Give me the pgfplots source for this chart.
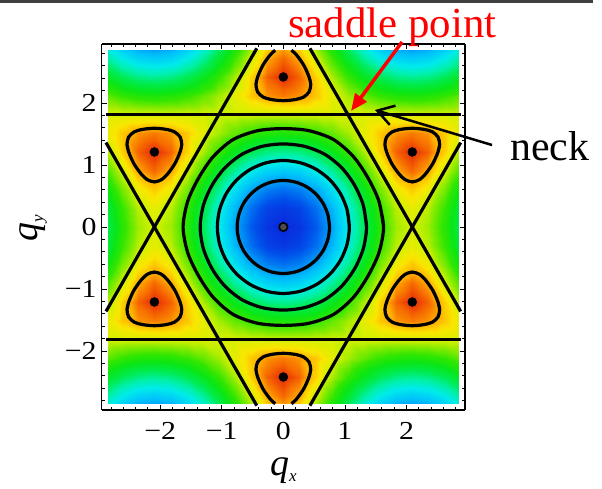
\documentclass[border=0pt]{standalone}
\usepackage{fontspec}
\setmainfont{Liberation Serif}
\usepackage{graphicx}
\usepackage{pgfplots}
\pgfplotsset{compat=1.18}
\usetikzlibrary{arrows.meta}
\pgfplotsset{colormap={bandmap}{rgb255(0pt)=(230,40,10); rgb255(8pt)=(245,100,0); rgb255(19pt)=(255,170,0); rgb255(35pt)=(250,230,0); rgb255(50pt)=(215,240,0); rgb255(70pt)=(140,235,0); rgb255(100pt)=(50,230,0); rgb255(130pt)=(10,230,20); rgb255(170pt)=(0,235,80); rgb255(210pt)=(0,240,170); rgb255(250pt)=(0,235,235); rgb255(300pt)=(0,195,250); rgb255(350pt)=(0,140,245); rgb255(400pt)=(0,80,235); rgb255(450pt)=(10,40,220)}}
\newcommand{\tl}[1]{\textrm{\scalebox{1.15}[1]{#1}}}
\begin{document}
\begin{tikzpicture}
\useasboundingbox (0,0) rectangle (602bp,-489bp);
\draw[line width=2.5bp, black!75] (0,-1.5bp) -- (593bp,-1.5bp);
\begin{axis}[
  at={(101.7bp,-44bp)}, anchor=north west,
  scale only axis, width=363.3bp, height=366bp,
  view={0}{90},
  xmin=-2.95, xmax=2.95, ymin=-2.95, ymax=2.95, zmin=-2, zmax=4,
  colormap name=bandmap, point meta min=-1.5, point meta max=3,
  xtick={-2,-1,0,1,2}, xticklabels={\tl{−2},\tl{−1},\tl{0},\tl{1},\tl{2}},
  ytick={-2,-1,0,1,2}, yticklabels={\tl{−2},\tl{−1},\tl{0},\tl{1},\tl{2}},
  ztick=\empty,
  minor xtick={-2.8,-2.6,...,2.81}, minor ytick={-2.8,-2.6,...,2.81},
  tick align=inside, major tick length=5bp, minor tick length=3bp,
  tick style={black, line width=0.8bp},
  axis line style={black, line width=1.4bp},
  ticklabel style={font=\fontsize{26}{26}\selectfont\rmfamily, inner sep=0pt},
  xticklabel shift=12bp, yticklabel shift=5bp,
  axis on top,
  cl/.style={black, line width=3.2bp},
]
\addplot3[surf, shader=interp, mesh/rows=21, mesh/cols=23] table[row sep=\\] {
x y z \\
-2.85 -2.85 0.885 \\ -2.618 -2.85 1.328 \\ -2.3562 -2.85 1.667 \\ -2.0944 -2.85 1.786 \\ -1.8326 -2.85 1.667 \\ -1.5708 -2.85 1.328 \\ -1.309 -2.85 0.82 \\ -1.0472 -2.85 0.222 \\ -0.7854 -2.85 -0.376 \\ -0.5236 -2.85 -0.883 \\ -0.2618 -2.85 -1.222 \\ 0 -2.85 -1.341 \\ 0.2618 -2.85 -1.222 \\ 0.5236 -2.85 -0.883 \\ 0.7854 -2.85 -0.376 \\ 1.0472 -2.85 0.222 \\ 1.309 -2.85 0.82 \\ 1.5708 -2.85 1.328 \\ 1.8326 -2.85 1.667 \\ 2.0944 -2.85 1.786 \\ 2.3562 -2.85 1.667 \\ 2.618 -2.85 1.328 \\ 2.85 -2.85 0.885 \\
-2.85 -2.7207 0.599 \\ -2.618 -2.7207 1 \\ -2.3562 -2.7207 1.307 \\ -2.0944 -2.7207 1.414 \\ -1.8326 -2.7207 1.307 \\ -1.5708 -2.7207 1 \\ -1.309 -2.7207 0.541 \\ -1.0472 -2.7207 0 \\ -0.7854 -2.7207 -0.541 \\ -0.5236 -2.7207 -1 \\ -0.2618 -2.7207 -1.307 \\ 0 -2.7207 -1.414 \\ 0.2618 -2.7207 -1.307 \\ 0.5236 -2.7207 -1 \\ 0.7854 -2.7207 -0.541 \\ 1.0472 -2.7207 0 \\ 1.309 -2.7207 0.541 \\ 1.5708 -2.7207 1 \\ 1.8326 -2.7207 1.307 \\ 2.0944 -2.7207 1.414 \\ 2.3562 -2.7207 1.307 \\ 2.618 -2.7207 1 \\ 2.85 -2.7207 0.599 \\
-2.85 -2.4184 -0.076 \\ -2.618 -2.4184 0.207 \\ -2.3562 -2.4184 0.424 \\ -2.0944 -2.4184 0.5 \\ -1.8326 -2.4184 0.424 \\ -1.5708 -2.4184 0.207 \\ -1.309 -2.4184 -0.117 \\ -1.0472 -2.4184 -0.5 \\ -0.7854 -2.4184 -0.883 \\ -0.5236 -2.4184 -1.207 \\ -0.2618 -2.4184 -1.424 \\ 0 -2.4184 -1.5 \\ 0.2618 -2.4184 -1.424 \\ 0.5236 -2.4184 -1.207 \\ 0.7854 -2.4184 -0.883 \\ 1.0472 -2.4184 -0.5 \\ 1.309 -2.4184 -0.117 \\ 1.5708 -2.4184 0.207 \\ 1.8326 -2.4184 0.424 \\ 2.0944 -2.4184 0.5 \\ 2.3562 -2.4184 0.424 \\ 2.618 -2.4184 0.207 \\ 2.85 -2.4184 -0.076 \\
-2.85 -2.1161 -0.647 \\ -2.618 -2.1161 -0.5 \\ -2.3562 -2.1161 -0.388 \\ -2.0944 -2.1161 -0.348 \\ -1.8326 -2.1161 -0.388 \\ -1.5708 -2.1161 -0.5 \\ -1.309 -2.1161 -0.668 \\ -1.0472 -2.1161 -0.866 \\ -0.7854 -2.1161 -1.064 \\ -0.5236 -2.1161 -1.232 \\ -0.2618 -2.1161 -1.344 \\ 0 -2.1161 -1.384 \\ 0.2618 -2.1161 -1.344 \\ 0.5236 -2.1161 -1.232 \\ 0.7854 -2.1161 -1.064 \\ 1.0472 -2.1161 -0.866 \\ 1.309 -2.1161 -0.668 \\ 1.5708 -2.1161 -0.5 \\ 1.8326 -2.1161 -0.388 \\ 2.0944 -2.1161 -0.348 \\ 2.3562 -2.1161 -0.388 \\ 2.618 -2.1161 -0.5 \\ 2.85 -2.1161 -0.647 \\
-2.85 -1.8138 -1 \\ -2.618 -1.8138 -1 \\ -2.3562 -1.8138 -1 \\ -2.0944 -1.8138 -1 \\ -1.8326 -1.8138 -1 \\ -1.5708 -1.8138 -1 \\ -1.309 -1.8138 -1 \\ -1.0472 -1.8138 -1 \\ -0.7854 -1.8138 -1 \\ -0.5236 -1.8138 -1 \\ -0.2618 -1.8138 -1 \\ 0 -1.8138 -1 \\ 0.2618 -1.8138 -1 \\ 0.5236 -1.8138 -1 \\ 0.7854 -1.8138 -1 \\ 1.0472 -1.8138 -1 \\ 1.309 -1.8138 -1 \\ 1.5708 -1.8138 -1 \\ 1.8326 -1.8138 -1 \\ 2.0944 -1.8138 -1 \\ 2.3562 -1.8138 -1 \\ 2.618 -1.8138 -1 \\ 2.85 -1.8138 -1 \\
-2.85 -1.5115 -1.085 \\ -2.618 -1.5115 -1.232 \\ -2.3562 -1.5115 -1.344 \\ -2.0944 -1.5115 -1.384 \\ -1.8326 -1.5115 -1.344 \\ -1.5708 -1.5115 -1.232 \\ -1.309 -1.5115 -1.064 \\ -1.0472 -1.5115 -0.866 \\ -0.7854 -1.5115 -0.668 \\ -0.5236 -1.5115 -0.5 \\ -0.2618 -1.5115 -0.388 \\ 0 -1.5115 -0.348 \\ 0.2618 -1.5115 -0.388 \\ 0.5236 -1.5115 -0.5 \\ 0.7854 -1.5115 -0.668 \\ 1.0472 -1.5115 -0.866 \\ 1.309 -1.5115 -1.064 \\ 1.5708 -1.5115 -1.232 \\ 1.8326 -1.5115 -1.344 \\ 2.0944 -1.5115 -1.384 \\ 2.3562 -1.5115 -1.344 \\ 2.618 -1.5115 -1.232 \\ 2.85 -1.5115 -1.085 \\
-2.85 -1.2092 -0.924 \\ -2.618 -1.2092 -1.207 \\ -2.3562 -1.2092 -1.424 \\ -2.0944 -1.2092 -1.5 \\ -1.8326 -1.2092 -1.424 \\ -1.5708 -1.2092 -1.207 \\ -1.309 -1.2092 -0.883 \\ -1.0472 -1.2092 -0.5 \\ -0.7854 -1.2092 -0.117 \\ -0.5236 -1.2092 0.207 \\ -0.2618 -1.2092 0.424 \\ 0 -1.2092 0.5 \\ 0.2618 -1.2092 0.424 \\ 0.5236 -1.2092 0.207 \\ 0.7854 -1.2092 -0.117 \\ 1.0472 -1.2092 -0.5 \\ 1.309 -1.2092 -0.883 \\ 1.5708 -1.2092 -1.207 \\ 1.8326 -1.2092 -1.424 \\ 2.0944 -1.2092 -1.5 \\ 2.3562 -1.2092 -1.424 \\ 2.618 -1.2092 -1.207 \\ 2.85 -1.2092 -0.924 \\
-2.85 -0.9069 -0.599 \\ -2.618 -0.9069 -1 \\ -2.3562 -0.9069 -1.307 \\ -2.0944 -0.9069 -1.414 \\ -1.8326 -0.9069 -1.307 \\ -1.5708 -0.9069 -1 \\ -1.309 -0.9069 -0.541 \\ -1.0472 -0.9069 0 \\ -0.7854 -0.9069 0.541 \\ -0.5236 -0.9069 1 \\ -0.2618 -0.9069 1.307 \\ 0 -0.9069 1.414 \\ 0.2618 -0.9069 1.307 \\ 0.5236 -0.9069 1 \\ 0.7854 -0.9069 0.541 \\ 1.0472 -0.9069 0 \\ 1.309 -0.9069 -0.541 \\ 1.5708 -0.9069 -1 \\ 1.8326 -0.9069 -1.307 \\ 2.0944 -0.9069 -1.414 \\ 2.3562 -0.9069 -1.307 \\ 2.618 -0.9069 -1 \\ 2.85 -0.9069 -0.599 \\
-2.85 -0.6046 -0.234 \\ -2.618 -0.6046 -0.725 \\ -2.3562 -0.6046 -1.1 \\ -2.0944 -0.6046 -1.232 \\ -1.8326 -0.6046 -1.1 \\ -1.5708 -0.6046 -0.725 \\ -1.309 -0.6046 -0.163 \\ -1.0472 -0.6046 0.5 \\ -0.7854 -0.6046 1.163 \\ -0.5236 -0.6046 1.725 \\ -0.2618 -0.6046 2.1 \\ 0 -0.6046 2.232 \\ 0.2618 -0.6046 2.1 \\ 0.5236 -0.6046 1.725 \\ 0.7854 -0.6046 1.163 \\ 1.0472 -0.6046 0.5 \\ 1.309 -0.6046 -0.163 \\ 1.5708 -0.6046 -0.725 \\ 1.8326 -0.6046 -1.1 \\ 2.0944 -0.6046 -1.232 \\ 2.3562 -0.6046 -1.1 \\ 2.618 -0.6046 -0.725 \\ 2.85 -0.6046 -0.234 \\
-2.85 -0.3023 0.047 \\ -2.618 -0.3023 -0.5 \\ -2.3562 -0.3023 -0.919 \\ -2.0944 -0.3023 -1.066 \\ -1.8326 -0.3023 -0.919 \\ -1.5708 -0.3023 -0.5 \\ -1.309 -0.3023 0.127 \\ -1.0472 -0.3023 0.866 \\ -0.7854 -0.3023 1.605 \\ -0.5236 -0.3023 2.232 \\ -0.2618 -0.3023 2.651 \\ 0 -0.3023 2.798 \\ 0.2618 -0.3023 2.651 \\ 0.5236 -0.3023 2.232 \\ 0.7854 -0.3023 1.605 \\ 1.0472 -0.3023 0.866 \\ 1.309 -0.3023 0.127 \\ 1.5708 -0.3023 -0.5 \\ 1.8326 -0.3023 -0.919 \\ 2.0944 -0.3023 -1.066 \\ 2.3562 -0.3023 -0.919 \\ 2.618 -0.3023 -0.5 \\ 2.85 -0.3023 0.047 \\
-2.85 0 0.152 \\ -2.618 0 -0.414 \\ -2.3562 0 -0.848 \\ -2.0944 0 -1 \\ -1.8326 0 -0.848 \\ -1.5708 0 -0.414 \\ -1.309 0 0.235 \\ -1.0472 0 1 \\ -0.7854 0 1.765 \\ -0.5236 0 2.414 \\ -0.2618 0 2.848 \\ 0 0 3 \\ 0.2618 0 2.848 \\ 0.5236 0 2.414 \\ 0.7854 0 1.765 \\ 1.0472 0 1 \\ 1.309 0 0.235 \\ 1.5708 0 -0.414 \\ 1.8326 0 -0.848 \\ 2.0944 0 -1 \\ 2.3562 0 -0.848 \\ 2.618 0 -0.414 \\ 2.85 0 0.152 \\
-2.85 0.3023 0.047 \\ -2.618 0.3023 -0.5 \\ -2.3562 0.3023 -0.919 \\ -2.0944 0.3023 -1.066 \\ -1.8326 0.3023 -0.919 \\ -1.5708 0.3023 -0.5 \\ -1.309 0.3023 0.127 \\ -1.0472 0.3023 0.866 \\ -0.7854 0.3023 1.605 \\ -0.5236 0.3023 2.232 \\ -0.2618 0.3023 2.651 \\ 0 0.3023 2.798 \\ 0.2618 0.3023 2.651 \\ 0.5236 0.3023 2.232 \\ 0.7854 0.3023 1.605 \\ 1.0472 0.3023 0.866 \\ 1.309 0.3023 0.127 \\ 1.5708 0.3023 -0.5 \\ 1.8326 0.3023 -0.919 \\ 2.0944 0.3023 -1.066 \\ 2.3562 0.3023 -0.919 \\ 2.618 0.3023 -0.5 \\ 2.85 0.3023 0.047 \\
-2.85 0.6046 -0.234 \\ -2.618 0.6046 -0.725 \\ -2.3562 0.6046 -1.1 \\ -2.0944 0.6046 -1.232 \\ -1.8326 0.6046 -1.1 \\ -1.5708 0.6046 -0.725 \\ -1.309 0.6046 -0.163 \\ -1.0472 0.6046 0.5 \\ -0.7854 0.6046 1.163 \\ -0.5236 0.6046 1.725 \\ -0.2618 0.6046 2.1 \\ 0 0.6046 2.232 \\ 0.2618 0.6046 2.1 \\ 0.5236 0.6046 1.725 \\ 0.7854 0.6046 1.163 \\ 1.0472 0.6046 0.5 \\ 1.309 0.6046 -0.163 \\ 1.5708 0.6046 -0.725 \\ 1.8326 0.6046 -1.1 \\ 2.0944 0.6046 -1.232 \\ 2.3562 0.6046 -1.1 \\ 2.618 0.6046 -0.725 \\ 2.85 0.6046 -0.234 \\
-2.85 0.9069 -0.599 \\ -2.618 0.9069 -1 \\ -2.3562 0.9069 -1.307 \\ -2.0944 0.9069 -1.414 \\ -1.8326 0.9069 -1.307 \\ -1.5708 0.9069 -1 \\ -1.309 0.9069 -0.541 \\ -1.0472 0.9069 0 \\ -0.7854 0.9069 0.541 \\ -0.5236 0.9069 1 \\ -0.2618 0.9069 1.307 \\ 0 0.9069 1.414 \\ 0.2618 0.9069 1.307 \\ 0.5236 0.9069 1 \\ 0.7854 0.9069 0.541 \\ 1.0472 0.9069 0 \\ 1.309 0.9069 -0.541 \\ 1.5708 0.9069 -1 \\ 1.8326 0.9069 -1.307 \\ 2.0944 0.9069 -1.414 \\ 2.3562 0.9069 -1.307 \\ 2.618 0.9069 -1 \\ 2.85 0.9069 -0.599 \\
-2.85 1.2092 -0.924 \\ -2.618 1.2092 -1.207 \\ -2.3562 1.2092 -1.424 \\ -2.0944 1.2092 -1.5 \\ -1.8326 1.2092 -1.424 \\ -1.5708 1.2092 -1.207 \\ -1.309 1.2092 -0.883 \\ -1.0472 1.2092 -0.5 \\ -0.7854 1.2092 -0.117 \\ -0.5236 1.2092 0.207 \\ -0.2618 1.2092 0.424 \\ 0 1.2092 0.5 \\ 0.2618 1.2092 0.424 \\ 0.5236 1.2092 0.207 \\ 0.7854 1.2092 -0.117 \\ 1.0472 1.2092 -0.5 \\ 1.309 1.2092 -0.883 \\ 1.5708 1.2092 -1.207 \\ 1.8326 1.2092 -1.424 \\ 2.0944 1.2092 -1.5 \\ 2.3562 1.2092 -1.424 \\ 2.618 1.2092 -1.207 \\ 2.85 1.2092 -0.924 \\
-2.85 1.5115 -1.085 \\ -2.618 1.5115 -1.232 \\ -2.3562 1.5115 -1.344 \\ -2.0944 1.5115 -1.384 \\ -1.8326 1.5115 -1.344 \\ -1.5708 1.5115 -1.232 \\ -1.309 1.5115 -1.064 \\ -1.0472 1.5115 -0.866 \\ -0.7854 1.5115 -0.668 \\ -0.5236 1.5115 -0.5 \\ -0.2618 1.5115 -0.388 \\ 0 1.5115 -0.348 \\ 0.2618 1.5115 -0.388 \\ 0.5236 1.5115 -0.5 \\ 0.7854 1.5115 -0.668 \\ 1.0472 1.5115 -0.866 \\ 1.309 1.5115 -1.064 \\ 1.5708 1.5115 -1.232 \\ 1.8326 1.5115 -1.344 \\ 2.0944 1.5115 -1.384 \\ 2.3562 1.5115 -1.344 \\ 2.618 1.5115 -1.232 \\ 2.85 1.5115 -1.085 \\
-2.85 1.8138 -1 \\ -2.618 1.8138 -1 \\ -2.3562 1.8138 -1 \\ -2.0944 1.8138 -1 \\ -1.8326 1.8138 -1 \\ -1.5708 1.8138 -1 \\ -1.309 1.8138 -1 \\ -1.0472 1.8138 -1 \\ -0.7854 1.8138 -1 \\ -0.5236 1.8138 -1 \\ -0.2618 1.8138 -1 \\ 0 1.8138 -1 \\ 0.2618 1.8138 -1 \\ 0.5236 1.8138 -1 \\ 0.7854 1.8138 -1 \\ 1.0472 1.8138 -1 \\ 1.309 1.8138 -1 \\ 1.5708 1.8138 -1 \\ 1.8326 1.8138 -1 \\ 2.0944 1.8138 -1 \\ 2.3562 1.8138 -1 \\ 2.618 1.8138 -1 \\ 2.85 1.8138 -1 \\
-2.85 2.1161 -0.647 \\ -2.618 2.1161 -0.5 \\ -2.3562 2.1161 -0.388 \\ -2.0944 2.1161 -0.348 \\ -1.8326 2.1161 -0.388 \\ -1.5708 2.1161 -0.5 \\ -1.309 2.1161 -0.668 \\ -1.0472 2.1161 -0.866 \\ -0.7854 2.1161 -1.064 \\ -0.5236 2.1161 -1.232 \\ -0.2618 2.1161 -1.344 \\ 0 2.1161 -1.384 \\ 0.2618 2.1161 -1.344 \\ 0.5236 2.1161 -1.232 \\ 0.7854 2.1161 -1.064 \\ 1.0472 2.1161 -0.866 \\ 1.309 2.1161 -0.668 \\ 1.5708 2.1161 -0.5 \\ 1.8326 2.1161 -0.388 \\ 2.0944 2.1161 -0.348 \\ 2.3562 2.1161 -0.388 \\ 2.618 2.1161 -0.5 \\ 2.85 2.1161 -0.647 \\
-2.85 2.4184 -0.076 \\ -2.618 2.4184 0.207 \\ -2.3562 2.4184 0.424 \\ -2.0944 2.4184 0.5 \\ -1.8326 2.4184 0.424 \\ -1.5708 2.4184 0.207 \\ -1.309 2.4184 -0.117 \\ -1.0472 2.4184 -0.5 \\ -0.7854 2.4184 -0.883 \\ -0.5236 2.4184 -1.207 \\ -0.2618 2.4184 -1.424 \\ 0 2.4184 -1.5 \\ 0.2618 2.4184 -1.424 \\ 0.5236 2.4184 -1.207 \\ 0.7854 2.4184 -0.883 \\ 1.0472 2.4184 -0.5 \\ 1.309 2.4184 -0.117 \\ 1.5708 2.4184 0.207 \\ 1.8326 2.4184 0.424 \\ 2.0944 2.4184 0.5 \\ 2.3562 2.4184 0.424 \\ 2.618 2.4184 0.207 \\ 2.85 2.4184 -0.076 \\
-2.85 2.7207 0.599 \\ -2.618 2.7207 1 \\ -2.3562 2.7207 1.307 \\ -2.0944 2.7207 1.414 \\ -1.8326 2.7207 1.307 \\ -1.5708 2.7207 1 \\ -1.309 2.7207 0.541 \\ -1.0472 2.7207 0 \\ -0.7854 2.7207 -0.541 \\ -0.5236 2.7207 -1 \\ -0.2618 2.7207 -1.307 \\ 0 2.7207 -1.414 \\ 0.2618 2.7207 -1.307 \\ 0.5236 2.7207 -1 \\ 0.7854 2.7207 -0.541 \\ 1.0472 2.7207 0 \\ 1.309 2.7207 0.541 \\ 1.5708 2.7207 1 \\ 1.8326 2.7207 1.307 \\ 2.0944 2.7207 1.414 \\ 2.3562 2.7207 1.307 \\ 2.618 2.7207 1 \\ 2.85 2.7207 0.599 \\
-2.85 2.85 0.885 \\ -2.618 2.85 1.328 \\ -2.3562 2.85 1.667 \\ -2.0944 2.85 1.786 \\ -1.8326 2.85 1.667 \\ -1.5708 2.85 1.328 \\ -1.309 2.85 0.82 \\ -1.0472 2.85 0.222 \\ -0.7854 2.85 -0.376 \\ -0.5236 2.85 -0.883 \\ -0.2618 2.85 -1.222 \\ 0 2.85 -1.341 \\ 0.2618 2.85 -1.222 \\ 0.5236 2.85 -0.883 \\ 0.7854 2.85 -0.376 \\ 1.0472 2.85 0.222 \\ 1.309 2.85 0.82 \\ 1.5708 2.85 1.328 \\ 1.8326 2.85 1.667 \\ 2.0944 2.85 1.786 \\ 2.3562 2.85 1.667 \\ 2.618 2.85 1.328 \\ 2.85 2.85 0.885 \\
};
% straight E=-1 lines
\addplot3[cl] coordinates {(-2.88,1.8138,3.5) (2.88,1.8138,3.5)};
\addplot3[cl] coordinates {(-2.88,-1.8138,3.5) (2.88,-1.8138,3.5)};
\addplot3[cl] coordinates {(0.4317,2.88,3.5) (2.88,-1.3607,3.5)};
\addplot3[cl] coordinates {(0.4317,-2.88,3.5) (2.88,1.3607,3.5)};
\addplot3[cl] coordinates {(-0.4317,-2.88,3.5) (-2.88,1.3607,3.5)};
\addplot3[cl] coordinates {(-0.4317,2.88,3.5) (-2.88,-1.3607,3.5)};
% rings around Gamma
\addplot3[cl, smooth] coordinates {(1.628,0,3.5) (1.5522,0.4159,3.5) (1.3735,0.793,3.5) (1.1363,1.1363,3.5) (0.814,1.4099,3.5) (0.4159,1.5522,3.5) (0,1.586,3.5) (-0.4159,1.5522,3.5) (-0.814,1.4099,3.5) (-1.1363,1.1363,3.5) (-1.3735,0.793,3.5) (-1.5522,0.4159,3.5) (-1.628,0,3.5) (-1.5522,-0.4159,3.5) (-1.3735,-0.793,3.5) (-1.1363,-1.1363,3.5) (-0.814,-1.4099,3.5) (-0.4159,-1.5522,3.5) (0,-1.586,3.5) (0.4159,-1.5522,3.5) (0.814,-1.4099,3.5) (1.1363,-1.1363,3.5) (1.3735,-0.793,3.5) (1.5522,-0.4159,3.5) (1.628,0,3.5) (1.5522,0.4159,3.5)};
\addplot3[cl, smooth] coordinates {(1.351,0,3.5) (1.2991,0.3481,3.5) (1.1596,0.6695,3.5) (0.9511,0.9511,3.5) (0.6755,1.17,3.5) (0.3481,1.2991,3.5) (0,1.339,3.5) (-0.3481,1.2991,3.5) (-0.6755,1.17,3.5) (-0.9511,0.9511,3.5) (-1.1596,0.6695,3.5) (-1.2991,0.3481,3.5) (-1.351,0,3.5) (-1.2991,-0.3481,3.5) (-1.1596,-0.6695,3.5) (-0.9511,-0.9511,3.5) (-0.6755,-1.17,3.5) (-0.3481,-1.2991,3.5) (0,-1.339,3.5) (0.3481,-1.2991,3.5) (0.6755,-1.17,3.5) (0.9511,-0.9511,3.5) (1.1596,-0.6695,3.5) (1.2991,-0.3481,3.5) (1.351,0,3.5) (1.2991,0.3481,3.5)};
\addplot3[cl, smooth] coordinates {(1.072,0,3.5) (1.0354,0.2774,3.5) (0.9284,0.536,3.5) (0.758,0.758,3.5) (0.536,0.9284,3.5) (0.2774,1.0354,3.5) (0,1.072,3.5) (-0.2774,1.0354,3.5) (-0.536,0.9284,3.5) (-0.758,0.758,3.5) (-0.9284,0.536,3.5) (-1.0354,0.2774,3.5) (-1.072,0,3.5) (-1.0354,-0.2774,3.5) (-0.9284,-0.536,3.5) (-0.758,-0.758,3.5) (-0.536,-0.9284,3.5) (-0.2774,-1.0354,3.5) (0,-1.072,3.5) (0.2774,-1.0354,3.5) (0.536,-0.9284,3.5) (0.758,-0.758,3.5) (0.9284,-0.536,3.5) (1.0354,-0.2774,3.5) (1.072,0,3.5) (1.0354,0.2774,3.5)};
\addplot3[cl, smooth] coordinates {(0.75,0,3.5) (0.7244,0.1941,3.5) (0.6495,0.375,3.5) (0.5303,0.5303,3.5) (0.375,0.6495,3.5) (0.1941,0.7244,3.5) (0,0.75,3.5) (-0.1941,0.7244,3.5) (-0.375,0.6495,3.5) (-0.5303,0.5303,3.5) (-0.6495,0.375,3.5) (-0.7244,0.1941,3.5) (-0.75,0,3.5) (-0.7244,-0.1941,3.5) (-0.6495,-0.375,3.5) (-0.5303,-0.5303,3.5) (-0.375,-0.6495,3.5) (-0.1941,-0.7244,3.5) (0,-0.75,3.5) (0.1941,-0.7244,3.5) (0.375,-0.6495,3.5) (0.5303,-0.5303,3.5) (0.6495,-0.375,3.5) (0.7244,-0.1941,3.5) (0.75,0,3.5) (0.7244,0.1941,3.5)};
% loops around the six minima
\addplot3[cl, smooth] coordinates {(2.5114,1.2092,3.5) (2.539,1.3283,3.5) (2.5124,1.4506,3.5) (2.4199,1.5347,3.5) (2.3029,1.5703,3.5) (2.1951,1.585,3.5) (2.0944,1.5913,3.5) (1.9937,1.585,3.5) (1.8859,1.5703,3.5) (1.7689,1.5347,3.5) (1.6764,1.4506,3.5) (1.6498,1.3283,3.5) (1.6774,1.2092,3.5) (1.7186,1.1085,3.5) (1.7635,1.0181,3.5) (1.8193,0.9341,3.5) (1.8859,0.8481,3.5) (1.9753,0.7646,3.5) (2.0944,0.7265,3.5) (2.2135,0.7646,3.5) (2.3029,0.8481,3.5) (2.3695,0.9341,3.5) (2.4253,1.0181,3.5) (2.4702,1.1085,3.5) (2.5114,1.2092,3.5) (2.539,1.3283,3.5)};
\addplot3[cl, smooth] coordinates {(-2.5114,1.2092,3.5) (-2.539,1.3283,3.5) (-2.5124,1.4506,3.5) (-2.4199,1.5347,3.5) (-2.3029,1.5703,3.5) (-2.1951,1.585,3.5) (-2.0944,1.5913,3.5) (-1.9937,1.585,3.5) (-1.8859,1.5703,3.5) (-1.7689,1.5347,3.5) (-1.6764,1.4506,3.5) (-1.6498,1.3283,3.5) (-1.6774,1.2092,3.5) (-1.7186,1.1085,3.5) (-1.7635,1.0181,3.5) (-1.8193,0.9341,3.5) (-1.8859,0.8481,3.5) (-1.9753,0.7646,3.5) (-2.0944,0.7265,3.5) (-2.2135,0.7646,3.5) (-2.3029,0.8481,3.5) (-2.3695,0.9341,3.5) (-2.4253,1.0181,3.5) (-2.4702,1.1085,3.5) (-2.5114,1.2092,3.5) (-2.539,1.3283,3.5)};
\addplot3[cl, smooth] coordinates {(2.5114,-1.2092,3.5) (2.539,-1.3283,3.5) (2.5124,-1.4506,3.5) (2.4199,-1.5347,3.5) (2.3029,-1.5703,3.5) (2.1951,-1.585,3.5) (2.0944,-1.5913,3.5) (1.9937,-1.585,3.5) (1.8859,-1.5703,3.5) (1.7689,-1.5347,3.5) (1.6764,-1.4506,3.5) (1.6498,-1.3283,3.5) (1.6774,-1.2092,3.5) (1.7186,-1.1085,3.5) (1.7635,-1.0181,3.5) (1.8193,-0.9341,3.5) (1.8859,-0.8481,3.5) (1.9753,-0.7646,3.5) (2.0944,-0.7265,3.5) (2.2135,-0.7646,3.5) (2.3029,-0.8481,3.5) (2.3695,-0.9341,3.5) (2.4253,-1.0181,3.5) (2.4702,-1.1085,3.5) (2.5114,-1.2092,3.5) (2.539,-1.3283,3.5)};
\addplot3[cl, smooth] coordinates {(-2.5114,-1.2092,3.5) (-2.539,-1.3283,3.5) (-2.5124,-1.4506,3.5) (-2.4199,-1.5347,3.5) (-2.3029,-1.5703,3.5) (-2.1951,-1.585,3.5) (-2.0944,-1.5913,3.5) (-1.9937,-1.585,3.5) (-1.8859,-1.5703,3.5) (-1.7689,-1.5347,3.5) (-1.6764,-1.4506,3.5) (-1.6498,-1.3283,3.5) (-1.6774,-1.2092,3.5) (-1.7186,-1.1085,3.5) (-1.7635,-1.0181,3.5) (-1.8193,-0.9341,3.5) (-1.8859,-0.8481,3.5) (-1.9753,-0.7646,3.5) (-2.0944,-0.7265,3.5) (-2.2135,-0.7646,3.5) (-2.3029,-0.8481,3.5) (-2.3695,-0.9341,3.5) (-2.4253,-1.0181,3.5) (-2.4702,-1.1085,3.5) (-2.5114,-1.2092,3.5) (-2.539,-1.3283,3.5)};
\addplot3[cl, smooth] coordinates {(-0.1326,2.85,3.5) (-0.2085,2.7795,3.5) (-0.2751,2.6935,3.5) (-0.3309,2.6095,3.5) (-0.3758,2.5191,3.5) (-0.417,2.4184,3.5) (-0.4446,2.2993,3.5) (-0.418,2.177,3.5) (-0.3255,2.0929,3.5) (-0.2085,2.0573,3.5) (-0.1007,2.0426,3.5) (0,2.0363,3.5) (0.1007,2.0426,3.5) (0.2085,2.0573,3.5) (0.3255,2.0929,3.5) (0.418,2.177,3.5) (0.4446,2.2993,3.5) (0.417,2.4184,3.5) (0.3758,2.5191,3.5) (0.3309,2.6095,3.5) (0.2751,2.6935,3.5) (0.2085,2.7795,3.5) (0.1326,2.85,3.5)};
\addplot3[cl, smooth] coordinates {(-0.1326,-2.85,3.5) (-0.2085,-2.7795,3.5) (-0.2751,-2.6935,3.5) (-0.3309,-2.6095,3.5) (-0.3758,-2.5191,3.5) (-0.417,-2.4184,3.5) (-0.4446,-2.2993,3.5) (-0.418,-2.177,3.5) (-0.3255,-2.0929,3.5) (-0.2085,-2.0573,3.5) (-0.1007,-2.0426,3.5) (0,-2.0363,3.5) (0.1007,-2.0426,3.5) (0.2085,-2.0573,3.5) (0.3255,-2.0929,3.5) (0.418,-2.177,3.5) (0.4446,-2.2993,3.5) (0.417,-2.4184,3.5) (0.3758,-2.5191,3.5) (0.3309,-2.6095,3.5) (0.2751,-2.6935,3.5) (0.2085,-2.7795,3.5) (0.1326,-2.85,3.5)};
% extrema
\addplot3[only marks, mark=*, mark size=4.5bp, mark options={fill=black, draw=black}] coordinates {(0,2.4184,3.6) (0,-2.4184,3.6) (2.0944,1.2092,3.6) (-2.0944,1.2092,3.6) (2.0944,-1.2092,3.6) (-2.0944,-1.2092,3.6)};
\addplot3[only marks, mark=*, mark size=4.2bp, mark options={fill=black!70, draw=black, line width=1.6bp}] coordinates {(0,0,3.6)};
\end{axis}
\node[anchor=base] at (283.4bp,-475bp) {\fontsize{38}{38}\selectfont\itshape q\raisebox{-6bp}{\fontsize{17}{17}\selectfont x}};
\node[anchor=base, rotate=90] at (37bp,-228bp) {\fontsize{38}{38}\selectfont\itshape q\raisebox{-6bp}{\fontsize{17}{17}\selectfont y}};
\node[anchor=base west, text=red, inner sep=0pt] at (288bp,-37bp) {\fontsize{43}{43}\selectfont saddle point};
\node[anchor=base west, inner sep=0pt] at (510bp,-160bp) {\fontsize{42}{42}\selectfont neck};
\draw[red, line width=3.5bp, -{Triangle[length=17bp,width=14bp]}] (402bp,-42bp) -- (351bp,-111bp);
\draw[black, line width=2.5bp, -{Straight Barb[length=16bp,width=20bp]}] (492bp,-145bp) -- (375bp,-110bp);
\end{tikzpicture}
\end{document}
